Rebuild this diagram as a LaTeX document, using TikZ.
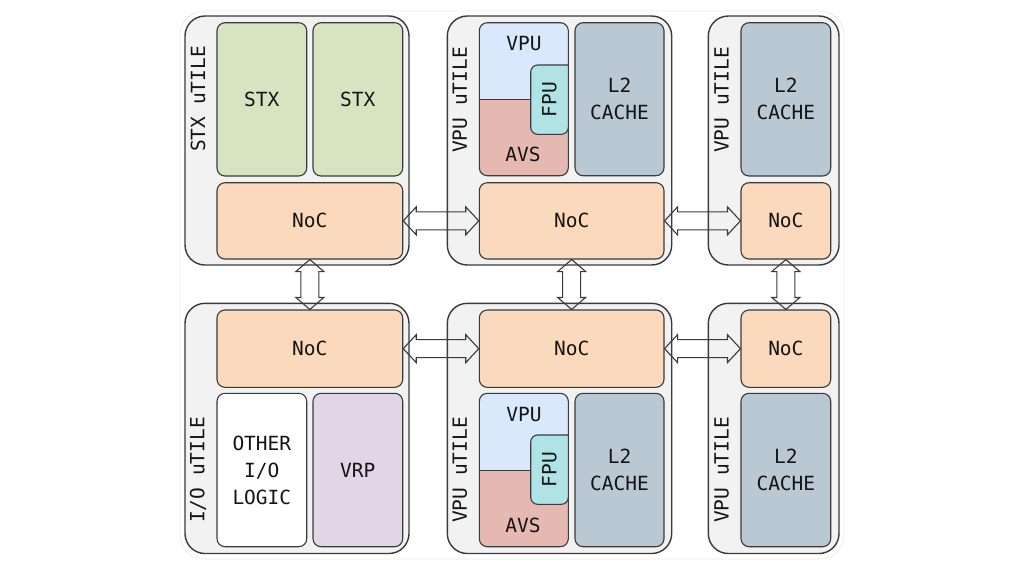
\documentclass[tikz,border=0pt]{standalone}
\usepackage{fontspec}
\newfontfamily\dmono{DejaVu Sans Mono}
\usetikzlibrary{fit,calc}
\definecolor{tilefill}{HTML}{F2F2F2}
\definecolor{linec}{HTML}{3A3A3A}
\definecolor{stxc}{HTML}{D6E4C1}
\definecolor{nocc}{HTML}{FAD9BC}
\definecolor{vpuc}{HTML}{DAE8FC}
\definecolor{avsc}{HTML}{E6B8B2}
\definecolor{fpuc}{HTML}{B0E3E6}
\definecolor{l2c}{HTML}{BAC8D3}
\definecolor{vrpc}{HTML}{E1D5E7}
\definecolor{txtc}{HTML}{141414}
\tikzset{
  tile/.style={draw=linec, line width=1.4pt, fill=tilefill, rounded corners=20pt, inner sep=0pt},
  blk/.style={draw=linec, line width=1.1pt, rounded corners=8pt, inner sep=0pt},
  lbl/.style={rotate=90, text=txtc, font=\dmono\fontsize{19.5}{27}\selectfont, inner sep=0pt},
  txt/.style={text=txtc, font=\dmono\fontsize{19.5}{27}\selectfont, inner sep=0pt, align=center},
  arr/.style={draw=linec, line width=1.1pt, line join=miter},
}
\newcommand\bx[7]{\node[#6, fit={(#2,#3)(#4,#5)}] (#1) {};
  \node[txt] (#1-t) at (#1.center) {#7};}
\newcommand\harr[2]{%
  \draw[arr] let \p1=(#1.east), \p2=(#2.west) in
  (\x1,\y1) -- (\x1+13pt,\y1+14pt) -- (\x1+13pt,\y1+9pt) -- (\x2-13pt,\y1+9pt) --
  (\x2-13pt,\y1+14pt) -- (\x2,\y1) -- (\x2-13pt,\y1-14pt) -- (\x2-13pt,\y1-9pt) --
  (\x1+13pt,\y1-9pt) -- (\x1+13pt,\y1-14pt) -- cycle;}
\newcommand\varr[2]{%
  \draw[arr] let \p1=(#1.south), \p2=(#2.north) in
  (\x1,\y1) -- (\x1+14pt,\y1-12pt) -- (\x1+9pt,\y1-12pt) -- (\x1+9pt,\y2+12pt) --
  (\x1+14pt,\y2+12pt) -- (\x1,\y2) -- (\x1-14pt,\y2+12pt) -- (\x1-9pt,\y2+12pt) --
  (\x1-9pt,\y1-12pt) -- (\x1-14pt,\y1-12pt) -- cycle;}
% composite VPU/AVS block
\newcommand\vpublock[4]{% #1 prefix, #2 top y, #3 split y, #4 bottom y
  \begin{scope}
    \clip[rounded corners=8pt] (479.3,#2) rectangle (568.3,#4);
    \fill[vpuc] (479.3,#2) rectangle (568.3,#3);
    \fill[avsc] (479.3,#3) rectangle (568.3,#4);
  \end{scope}
  \draw[linec, line width=0.9pt] (479.3,#3) -- (531,#3);
  \node[draw=linec, line width=1.1pt, rounded corners=8pt, inner sep=0pt,
        fit={(479.3,#2)(568.3,#4)}] (#1grp) {};
  \node[txt] (#1vpu) at (524,#2+21) {VPU};
  \node[txt] (#1avs) at (523,#4-21) {AVS};
}
\begin{document}
\begin{tikzpicture}[x=1pt,y=-1pt]
\useasboundingbox (0,0) rectangle (1024,576);
\fill[white] (0,0) rectangle (1024,576);
\draw[black!7, line width=0.8pt, rounded corners=24pt] (180,11) rectangle (844,559);

% ---------- tiles ----------
\bx{t1}{185}{16}{409}{265}{tile}{}
\bx{t2}{447.3}{16}{671.7}{265}{tile}{}
\bx{t3}{708.3}{16}{839}{265}{tile}{}
\bx{t4}{185}{303.3}{409}{553.5}{tile}{}
\bx{t5}{447.3}{303.3}{671.7}{553.5}{tile}{}
\bx{t6}{708.3}{303.3}{839}{553.5}{tile}{}

\node[lbl] (l1) at (198,99) {STX uTILE};
\node[lbl] (l2) at (460,100) {VPU uTILE};
\node[lbl] (l3) at (721.7,100) {VPU uTILE};
\node[lbl] (l4) at (198,470) {I/O uTILE};
\node[lbl] (l5) at (460,470) {VPU uTILE};
\node[lbl] (l6) at (721.7,470) {VPU uTILE};

% ---------- top-left ----------
\bx{stxa}{217}{22.7}{306.7}{176}{blk,fill=stxc}{STX}
\bx{stxb}{313}{22.7}{402.7}{176}{blk,fill=stxc}{STX}
\bx{noc1}{217}{182.7}{402.7}{259}{blk,fill=nocc}{NoC}

% ---------- top-middle ----------
\vpublock{a}{22.7}{99.3}{175.7}
\filldraw[fill=fpuc, draw=linec, line width=1.1pt, rounded corners=7pt]
  (568.3,65) -- (530.7,65) -- (530.7,134.3) -- (568.3,134.3) [sharp corners] -- cycle;
\node[txt, rotate=90] (afpu) at (549.5,99.7) {FPU};
\bx{l2a}{575}{22.7}{664}{175.7}{blk,fill=l2c}{L2\\CACHE}
\bx{noc2}{479.3}{182.7}{664}{259}{blk,fill=nocc}{NoC}

% ---------- top-right ----------
\bx{l2b}{741}{22.7}{830.7}{176}{blk,fill=l2c}{L2\\CACHE}
\bx{noc3}{741}{182.7}{830.7}{259}{blk,fill=nocc}{NoC}

% ---------- bottom-left ----------
\bx{noc4}{217}{310}{402.7}{387.3}{blk,fill=nocc}{NoC}
\bx{oth}{217}{393.3}{306.7}{546.7}{blk,fill=white}{OTHER\\I/O\\LOGIC}
\bx{vrp}{313}{393.3}{402.7}{546.7}{blk,fill=vrpc}{VRP}

% ---------- bottom-middle ----------
\bx{noc5}{479.3}{310}{664}{387.3}{blk,fill=nocc}{NoC}
\vpublock{b}{393.3}{470}{546.7}
\filldraw[fill=fpuc, draw=linec, line width=1.1pt, rounded corners=7pt]
  (568.3,435) -- (530.7,435) -- (530.7,504.3) -- (568.3,504.3) [sharp corners] -- cycle;
\node[txt, rotate=90] (bfpu) at (549.5,469.5) {FPU};
\bx{l2c2}{575}{393.3}{664}{546.7}{blk,fill=l2c}{L2\\CACHE}

% ---------- bottom-right ----------
\bx{noc6}{741}{310}{830.7}{387.3}{blk,fill=nocc}{NoC}
\bx{l2d}{741}{393.3}{830.7}{546.7}{blk,fill=l2c}{L2\\CACHE}

% ---------- links ----------
\harr{noc1}{noc2}
\harr{noc2}{noc3}
\harr{noc4}{noc5}
\harr{noc5}{noc6}
\varr{noc1}{noc4}
\varr{noc2}{noc5}
\varr{noc3}{noc6}
\end{tikzpicture}
\end{document}
